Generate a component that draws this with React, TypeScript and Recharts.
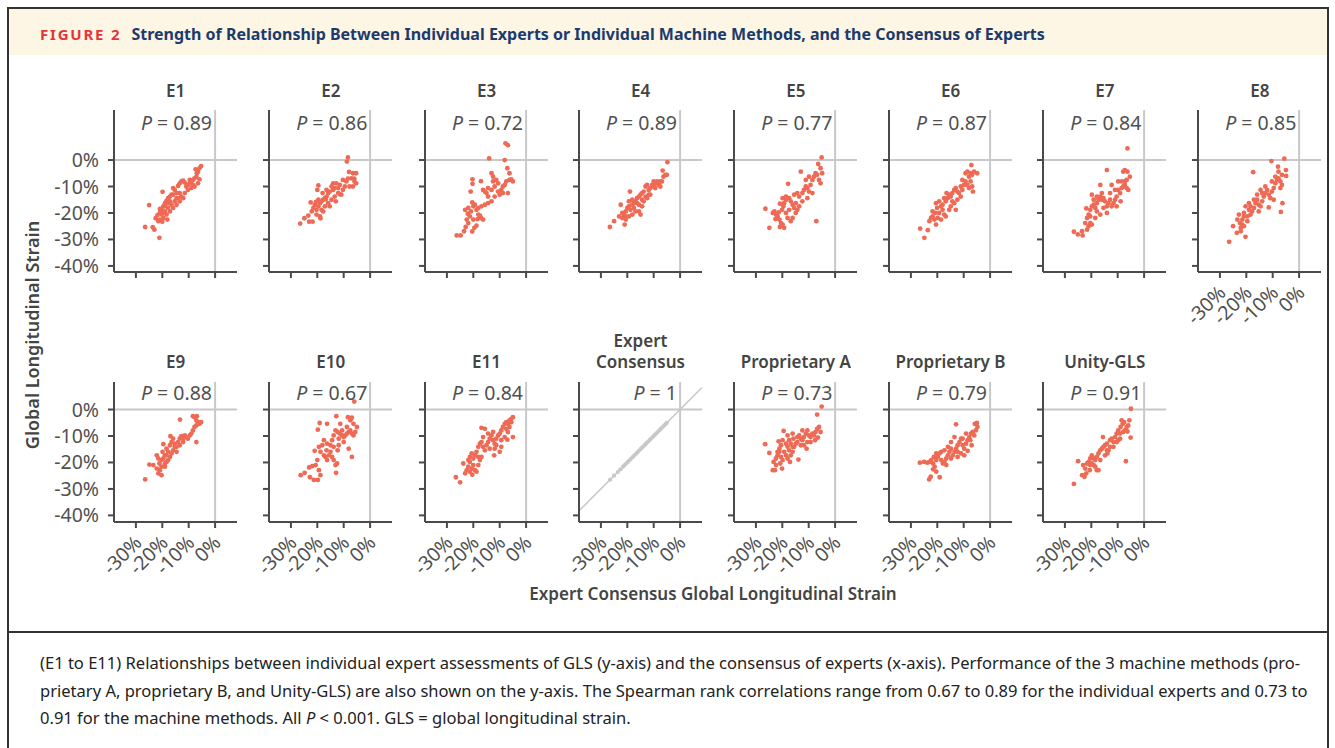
import React from 'react';
import { ScatterChart, Scatter, XAxis, YAxis, ReferenceLine } from 'recharts';

type Pt = [number, number];

// values, in % GLS: [consensus (x), method (y)]
const E1: Pt[] = [
  [-26.5, -25.3], [-23.6, -25.4], [-23.0, -26.3], [-21.1, -29.4], [-25.0, -17.0], [-19.9, -12.0], [-22.5, -22.0],
  [-21.8, -20.8], [-20.9, -19.8], [-20.3, -18.8], [-19.6, -17.5], [-19.0, -16.3], [-18.4, -15.4], [-17.8, -14.4],
  [-17.1, -13.8], [-16.5, -13.1], [-15.9, -10.6], [-15.3, -11.3], [-14.6, -12.5], [-14.0, -9.8], [-13.4, -8.8],
  [-12.8, -8.1], [-12.1, -7.8], [-11.5, -8.5], [-10.9, -10.0], [-10.3, -9.4], [-9.6, -8.8], [-9.0, -8.1],
  [-8.4, -7.5], [-7.8, -6.9], [-7.1, -6.3], [-6.9, -5.0], [-6.5, -4.4], [-5.9, -3.1], [-5.3, -2.3], [-7.4, -3.5],
  [-8.4, -9.4], [-7.8, -10.0], [-9.0, -10.6], [-10.3, -11.3], [-11.5, -12.5], [-12.8, -13.8], [-14.0, -14.4],
  [-15.3, -15.6], [-16.5, -16.9], [-17.8, -18.1], [-19.0, -19.4], [-20.3, -20.6], [-20.9, -22.5], [-19.6, -21.9],
  [-18.4, -20.6], [-17.1, -19.4], [-15.9, -18.1], [-14.6, -16.9], [-13.4, -15.6], [-12.1, -14.4], [-13.4, -12.5],
  [-14.6, -14.4], [-17.1, -15.6], [-19.0, -17.5], [-20.9, -18.5], [-21.5, -23.1], [-20.0, -23.3], [-18.1, -22.5],
  [-9.6, -7.5], [-6.5, -8.8], [-5.9, -7.3], [-15.9, -13.1], [-17.8, -16.3], [-19.6, -20.0],
];
const E2: Pt[] = [
  [-26.5, -24.0], [-24.9, -22.0], [-23.1, -23.3], [-21.8, -23.3], [-23.4, -21.0], [-22.1, -19.4], [-21.5, -18.1],
  [-20.9, -16.9], [-20.3, -18.8], [-19.6, -17.5], [-19.0, -16.3], [-20.3, -20.6], [-19.0, -21.3], [-19.6, -9.6],
  [-20.0, -11.3], [-8.4, 1.0], [-8.8, -0.6], [-8.0, -4.5], [-6.5, -5.0], [-5.3, -5.0], [-7.1, -6.9], [-5.9, -8.1],
  [-5.3, -8.8], [-6.5, -10.0], [-7.8, -10.0], [-10.3, -7.5], [-11.5, -9.4], [-12.8, -8.8], [-13.4, -10.6],
  [-14.0, -11.3], [-15.3, -11.9], [-15.9, -12.5], [-16.5, -13.8], [-17.1, -14.4], [-17.8, -15.0], [-18.4, -15.6],
  [-10.3, -11.3], [-9.6, -10.0], [-9.0, -8.1], [-12.1, -12.5], [-13.4, -13.8], [-14.6, -15.0], [-15.9, -16.3],
  [-17.1, -17.5], [-18.4, -18.8], [-16.5, -11.3], [-14.6, -10.0], [-12.1, -10.6], [-11.5, -12.9], [-13.0, -15.6],
  [-15.3, -17.5], [-17.8, -19.4], [-19.6, -15.0], [-18.0, -12.5], [-10.9, -13.1], [-8.4, -7.0], [-6.0, -7.0],
  [-14.0, -8.8], [-16.8, -14.9], [-20.5, -15.8], [-22.5, -16.0], [-18.8, -22.0],
];
const E3: Pt[] = [
  [-26.3, -28.5], [-24.8, -28.5], [-23.5, -26.9], [-22.9, -25.3], [-21.9, -23.8], [-20.4, -27.0], [-19.6, -25.6],
  [-18.8, -24.8], [-20.0, -22.5], [-18.4, -22.3], [-17.1, -21.9], [-16.3, -22.5], [-17.5, -21.0], [-21.3, -21.3],
  [-22.1, -20.3], [-20.9, -19.4], [-20.0, -17.5], [-20.4, -16.0], [-19.4, -16.9], [-18.8, -18.8], [-18.1, -18.1],
  [-16.9, -17.5], [-15.6, -16.9], [-14.4, -16.3], [-13.1, -15.6], [-14.4, -13.8], [-15.0, -12.5], [-15.6, -11.9],
  [-16.3, -11.3], [-14.4, -10.6], [-13.1, -11.3], [-11.9, -10.0], [-10.6, -8.8], [-11.3, -7.5], [-12.5, -6.3],
  [-13.1, -5.0], [-12.5, -8.1], [-10.0, -13.1], [-9.4, -11.3], [-8.8, -10.0], [-8.1, -9.4], [-7.5, -8.1],
  [-6.3, -7.5], [-5.6, -7.3], [-5.0, -8.1], [-6.3, -5.0], [-7.1, -3.1], [-6.9, -12.5], [-8.1, 0.0], [-7.8, 6.3],
  [-6.9, 5.6], [-14.0, 0.6], [-20.3, -7.3], [-20.3, -9.0], [-17.1, -8.0], [-21.0, -11.9], [-23.1, -18.8],
  [-21.9, -18.1], [-22.5, -22.5], [-18.1, -20.6], [-8.8, -12.5], [-10.6, -11.9], [-11.9, -13.8],
];
const E4: Pt[] = [
  [-26.6, -25.3], [-25.0, -23.1], [-23.1, -21.3], [-21.9, -21.9], [-20.6, -22.5], [-21.0, -24.4], [-22.5, -16.9],
  [-19.0, -11.9], [-20.6, -19.4], [-20.0, -18.1], [-19.4, -17.5], [-18.8, -18.8], [-18.1, -16.9], [-17.5, -16.3],
  [-16.9, -15.6], [-16.3, -14.4], [-15.6, -13.8], [-15.0, -13.1], [-14.4, -12.5], [-13.8, -11.9], [-13.1, -10.0],
  [-12.5, -9.4], [-11.9, -11.3], [-11.3, -10.6], [-10.6, -9.4], [-10.0, -8.1], [-9.4, -8.8], [-8.8, -8.1],
  [-8.1, -9.4], [-7.5, -10.0], [-6.9, -8.1], [-6.3, -6.3], [-5.6, -5.6], [-5.0, -5.6], [-6.6, -4.0], [-4.8, -0.8],
  [-16.9, -19.4], [-18.1, -20.6], [-19.4, -21.3], [-21.3, -20.6], [-17.5, -18.1], [-15.6, -16.9], [-14.4, -15.0],
  [-13.1, -13.8], [-11.9, -13.1], [-15.0, -20.6], [-16.3, -16.3], [-13.8, -15.6], [-12.5, -14.4], [-19.4, -15.6],
  [-10.0, -10.0], [-7.5, -8.1], [-9.4, -10.6], [-11.3, -13.1], [-14.4, -17.5], [-18.1, -15.0], [-20.6, -21.3],
  [-21.9, -20.0], [-15.6, -19.4],
];
const E5: Pt[] = [
  [-26.4, -18.4], [-24.9, -25.6], [-23.0, -19.4], [-22.4, -20.6], [-21.8, -21.3], [-21.1, -22.5], [-20.5, -23.8],
  [-19.3, -25.6], [-19.9, -24.4], [-20.9, -25.3], [-23.6, -20.0], [-22.6, -22.3], [-21.4, -19.8], [-20.1, -18.8],
  [-19.6, -17.5], [-19.3, -16.3], [-19.9, -14.4], [-18.6, -15.0], [-17.4, -14.4], [-16.8, -15.6], [-16.1, -16.9],
  [-15.5, -18.1], [-17.4, -18.8], [-18.6, -20.0], [-18.0, -21.9], [-16.8, -23.1], [-16.1, -21.9], [-14.9, -20.0],
  [-14.3, -18.8], [-13.6, -17.5], [-14.9, -16.3], [-15.5, -13.1], [-14.3, -12.5], [-13.6, -13.8], [-12.4, -12.5],
  [-11.8, -11.3], [-11.1, -10.0], [-10.5, -10.6], [-9.9, -11.9], [-9.3, -9.4], [-8.6, -7.5], [-8.0, -6.3],
  [-7.4, -5.0], [-6.8, -5.6], [-6.1, -7.5], [-5.5, -8.8], [-4.9, -5.0], [-5.5, -3.1], [-6.4, -1.5], [-5.1, 1.0],
  [-9.9, -6.3], [-11.1, -7.5], [-13.0, -4.4], [-17.8, -9.0], [-7.1, -23.1], [-12.4, -15.6], [-10.5, -14.4],
  [-8.6, -12.5], [-18.6, -13.8], [-20.9, -16.5],
];
const E6: Pt[] = [
  [-24.9, -29.4], [-26.5, -25.9], [-23.6, -26.5], [-23.0, -23.1], [-22.4, -21.9], [-21.8, -21.3], [-21.1, -22.5],
  [-20.5, -24.4], [-19.9, -21.9], [-20.8, -20.0], [-20.1, -18.1], [-20.5, -16.3], [-19.3, -15.6], [-18.6, -17.5],
  [-18.0, -18.8], [-17.4, -20.6], [-16.8, -21.3], [-19.3, -20.0], [-18.6, -22.5], [-18.0, -16.9], [-16.8, -15.6],
  [-16.1, -14.4], [-15.5, -13.1], [-16.5, -12.5], [-14.9, -13.8], [-14.3, -12.5], [-13.6, -11.3], [-13.0, -10.6],
  [-12.4, -11.9], [-11.8, -12.5], [-11.1, -13.8], [-12.4, -15.0], [-13.6, -16.3], [-14.9, -17.5], [-13.0, -18.8],
  [-11.1, -10.0], [-10.5, -11.3], [-9.9, -9.4], [-9.3, -8.1], [-8.6, -9.4], [-8.0, -10.6], [-7.4, -8.1],
  [-6.8, -10.0], [-6.5, -11.9], [-8.0, -6.3], [-9.3, -5.0], [-8.6, -4.4], [-7.4, -5.0], [-6.8, -5.6], [-6.1, -4.4],
  [-4.9, -5.0], [-7.1, -1.9], [-14.3, -15.6], [-15.5, -18.8], [-17.4, -14.4], [-10.5, -7.5], [-21.8, -19.4],
];
const E7: Pt[] = [
  [-26.6, -27.1], [-25.1, -28.1], [-23.3, -28.5], [-23.5, -26.9], [-21.6, -26.3], [-21.0, -25.0], [-20.4, -23.8],
  [-19.8, -24.4], [-22.3, -23.8], [-21.6, -21.9], [-21.0, -20.6], [-20.4, -18.8], [-21.9, -18.3], [-19.8, -17.5],
  [-19.1, -16.9], [-18.5, -18.1], [-17.9, -16.3], [-17.3, -15.0], [-16.6, -13.8], [-16.0, -12.5], [-15.4, -14.4],
  [-14.8, -15.6], [-14.1, -17.5], [-13.5, -16.3], [-12.9, -15.0], [-12.3, -17.5], [-11.6, -16.3], [-11.0, -15.0],
  [-10.4, -13.8], [-9.8, -11.3], [-9.1, -12.5], [-8.5, -10.6], [-7.9, -10.0], [-7.3, -9.4], [-6.6, -10.6],
  [-6.0, -11.3], [-7.3, -8.1], [-8.5, -8.1], [-9.8, -8.1], [-6.6, -7.5], [-6.3, -4.4], [-7.9, -4.4], [-7.3, -3.8],
  [-5.4, -6.3], [-16.6, -9.4], [-12.3, -9.4], [-14.1, -3.8], [-6.3, 4.4], [-19.8, -13.1], [-19.1, -15.0],
  [-17.9, -19.4], [-16.6, -20.6], [-18.5, -21.9], [-20.4, -21.3], [-15.4, -18.1], [-14.1, -20.0], [-10.4, -17.5],
  [-8.9, -15.6], [-12.9, -12.5], [-11.0, -11.3], [-16.0, -15.0], [-17.9, -13.8],
];
const E8: Pt[] = [
  [-26.5, -30.9], [-25.0, -25.0], [-23.6, -27.5], [-22.1, -26.9], [-20.9, -25.0], [-20.3, -29.0], [-22.4, -23.8],
  [-21.5, -22.5], [-22.8, -20.6], [-20.9, -20.0], [-19.6, -21.3], [-19.0, -18.8], [-20.3, -17.5], [-18.4, -17.5],
  [-17.8, -19.4], [-17.1, -18.1], [-16.5, -16.3], [-15.9, -15.0], [-15.3, -16.9], [-14.6, -17.5], [-14.0, -15.6],
  [-13.4, -13.8], [-12.8, -12.5], [-12.1, -11.3], [-11.5, -13.1], [-10.9, -14.4], [-10.3, -11.9], [-9.6, -10.6],
  [-9.0, -8.8], [-8.4, -7.5], [-7.8, -6.9], [-7.1, -8.1], [-6.5, -9.4], [-7.1, -10.6], [-9.6, -15.0], [-6.3, -16.3],
  [-6.9, -19.6], [-11.5, -17.9], [-14.6, -11.3], [-14.0, -12.5], [-17.4, -4.6], [-10.5, -0.4], [-8.0, -2.5],
  [-5.6, 0.5], [-5.0, -3.8], [-4.9, -6.0], [-6.5, -5.6], [-7.8, -4.4], [-9.0, -6.3], [-10.3, -8.1], [-12.8, -10.0],
  [-15.9, -13.1], [-17.1, -15.0], [-19.0, -16.3], [-21.5, -24.4], [-23.4, -22.5], [-19.6, -23.1], [-18.4, -20.6],
  [-15.3, -19.4], [-20.9, -21.3], [-22.1, -25.6],
];
const E9: Pt[] = [
  [-26.5, -26.4], [-24.9, -20.8], [-23.4, -21.0], [-22.1, -22.3], [-21.5, -24.1], [-20.3, -24.8], [-20.9, -22.9],
  [-21.1, -20.4], [-20.3, -19.1], [-19.6, -18.5], [-19.0, -17.3], [-19.9, -16.0], [-19.6, -13.1], [-18.4, -14.8],
  [-17.8, -16.0], [-17.1, -17.9], [-18.4, -19.8], [-19.0, -21.6], [-20.3, -21.6], [-17.1, -13.5], [-16.5, -12.3],
  [-15.9, -11.0], [-15.3, -12.9], [-14.6, -14.1], [-14.0, -12.3], [-13.4, -11.0], [-12.8, -10.1], [-12.1, -11.0],
  [-11.5, -9.8], [-10.9, -10.4], [-10.3, -11.0], [-9.6, -9.8], [-9.0, -9.1], [-8.4, -7.9], [-7.8, -6.6],
  [-7.1, -6.0], [-6.5, -4.8], [-5.9, -5.4], [-5.3, -4.8], [-7.1, -4.1], [-7.8, -2.9], [-8.4, -2.5], [-6.9, -2.5],
  [-7.1, -12.3], [-13.3, -3.8], [-16.9, -10.1], [-15.9, -15.4], [-14.6, -16.0], [-13.4, -13.5], [-12.1, -12.3],
  [-16.5, -16.6], [-17.8, -19.1], [-19.0, -20.4], [-15.3, -14.1], [-18.4, -17.3], [-21.5, -18.5], [-22.1, -17.3],
];
const E10: Pt[] = [
  [-26.3, -24.8], [-24.8, -23.9], [-22.8, -25.6], [-21.3, -26.6], [-19.8, -26.6], [-23.1, -21.9], [-21.9, -21.4],
  [-20.6, -21.0], [-19.4, -22.9], [-18.8, -24.8], [-20.0, -19.1], [-21.0, -15.6], [-19.4, -14.1], [-18.1, -13.5],
  [-18.8, -16.0], [-17.5, -17.3], [-16.9, -17.9], [-16.3, -19.1], [-15.6, -17.3], [-15.0, -16.0], [-14.4, -17.9],
  [-13.8, -19.1], [-13.1, -21.0], [-12.5, -20.4], [-12.9, -23.9], [-12.3, -15.4], [-11.9, -13.5], [-13.8, -14.1],
  [-15.0, -13.5], [-16.3, -12.9], [-17.5, -11.6], [-16.5, -15.4], [-14.4, -11.6], [-13.8, -9.8], [-13.1, -7.9],
  [-12.3, -8.5], [-11.5, -9.1], [-10.6, -9.8], [-10.0, -10.4], [-9.4, -9.8], [-8.8, -9.1], [-8.1, -8.5],
  [-7.5, -7.9], [-6.9, -9.1], [-6.3, -9.8], [-5.6, -8.5], [-5.0, -6.6], [-6.3, -5.4], [-7.5, -4.1], [-8.4, -2.9],
  [-6.9, -3.1], [-8.8, -6.6], [-10.6, -7.9], [-11.3, -5.4], [-12.8, -2.5], [-19.1, -5.1], [-19.8, -7.6],
  [-16.3, -5.4], [-6.0, 3.0], [-8.1, -14.8], [-6.9, -17.9], [-11.9, -11.0], [-10.0, -12.3],
];
const E11: Pt[] = [
  [-26.6, -25.6], [-25.0, -27.5], [-23.8, -20.4], [-23.1, -24.1], [-22.5, -22.9], [-21.9, -21.6], [-21.3, -23.5],
  [-20.6, -22.3], [-20.0, -21.0], [-19.4, -22.9], [-18.8, -23.5], [-21.9, -19.1], [-21.3, -17.9], [-20.6, -16.6],
  [-21.3, -19.8], [-20.0, -18.5], [-19.4, -17.3], [-18.8, -16.0], [-18.1, -17.9], [-17.5, -19.1], [-16.9, -17.9],
  [-18.1, -14.1], [-17.5, -12.9], [-16.9, -12.3], [-16.3, -14.1], [-15.6, -15.4], [-15.0, -13.5], [-14.4, -12.3],
  [-13.8, -11.0], [-13.1, -9.8], [-12.5, -11.6], [-11.9, -12.9], [-11.3, -11.0], [-10.6, -9.8], [-10.0, -9.1],
  [-9.4, -7.9], [-8.8, -6.6], [-8.1, -5.4], [-7.5, -4.8], [-6.9, -5.4], [-6.3, -4.1], [-5.6, -3.5], [-5.0, -2.9],
  [-7.5, -7.3], [-6.9, -8.5], [-6.3, -6.6], [-5.6, -4.8], [-8.1, -10.4], [-7.1, -11.4], [-9.4, -14.1],
  [-10.0, -16.0], [-12.1, -17.3], [-13.8, -14.8], [-15.6, -7.3], [-16.9, -6.9], [-14.4, -9.1], [-12.5, -8.5],
  [-11.9, -14.8], [-9.4, -11.6], [-11.3, -13.5], [-5.0, -10.4], [-16.3, -10.4], [-18.1, -21.0], [-20.4, -24.6],
];
// consensus against itself: x values of the grey points on the identity line
const CONSENSUS_X = [
  -26.5, -25.0, -23.6, -22.6, -21.6, -21.0, -20.4, -19.8, -19.2, -18.6, -18.0, -17.4, -16.8, -16.2, -15.6, -15.0,
  -14.4, -13.8, -13.2, -12.6, -12.0, -11.4, -10.8, -10.2, -9.6, -9.0, -8.4, -7.8, -7.2, -6.6, -6.0, -5.4, -5.0,
];
const PROP_A: Pt[] = [
  [-26.5, -13.1], [-24.9, -16.4], [-23.6, -22.9], [-22.8, -22.9], [-23.3, -19.8], [-22.4, -18.5], [-21.8, -17.3],
  [-21.1, -16.0], [-20.5, -17.9], [-19.9, -19.1], [-20.8, -20.4], [-22.4, -21.0], [-21.8, -16.0], [-21.1, -14.8],
  [-20.5, -13.5], [-21.4, -12.0], [-19.9, -11.6], [-18.6, -12.9], [-18.0, -14.1], [-17.4, -15.4], [-19.3, -16.0],
  [-18.6, -17.3], [-18.0, -18.5], [-16.8, -17.3], [-16.1, -16.0], [-15.5, -14.1], [-14.9, -12.9], [-14.3, -12.3],
  [-13.9, -18.9], [-16.1, -14.1], [-16.8, -12.9], [-17.4, -11.6], [-15.8, -11.0], [-16.1, -9.1], [-18.0, -9.8],
  [-19.5, -8.1], [-14.3, -10.4], [-13.6, -9.8], [-13.0, -11.0], [-12.4, -11.6], [-11.8, -10.4], [-11.1, -9.1],
  [-10.5, -7.9], [-9.9, -9.8], [-9.3, -10.4], [-8.6, -9.1], [-8.0, -9.8], [-7.4, -8.5], [-6.8, -7.3], [-6.1, -6.6],
  [-5.5, -8.5], [-6.5, -10.6], [-7.6, -11.6], [-9.3, -12.3], [-10.8, -14.8], [-13.0, -13.5], [-6.8, -1.9],
  [-5.1, 1.1], [-10.5, -12.3], [-12.4, -7.9], [-11.8, -13.5], [-17.1, -19.8], [-20.1, -22.3],
];
const PROP_B: Pt[] = [
  [-26.6, -20.1], [-25.0, -19.8], [-23.8, -20.1], [-22.9, -19.8], [-22.3, -19.1], [-21.6, -20.4], [-21.0, -21.6],
  [-21.6, -22.6], [-23.1, -26.4], [-22.5, -25.4], [-20.4, -23.5], [-19.1, -25.6], [-20.4, -19.1], [-19.8, -17.9],
  [-19.1, -16.6], [-18.5, -16.0], [-20.4, -16.6], [-21.3, -17.9], [-18.5, -19.1], [-17.9, -20.4], [-17.3, -19.8],
  [-16.6, -18.5], [-16.0, -17.3], [-15.4, -16.0], [-14.8, -14.8], [-16.0, -14.1], [-17.3, -15.4], [-16.6, -21.0],
  [-14.8, -18.5], [-14.1, -17.3], [-13.5, -16.0], [-12.9, -14.8], [-12.3, -13.5], [-11.6, -12.3], [-11.0, -11.0],
  [-12.3, -17.9], [-10.4, -13.5], [-9.8, -14.8], [-9.1, -12.9], [-8.5, -11.6], [-7.9, -10.4], [-7.3, -9.1],
  [-6.6, -8.5], [-6.0, -9.8], [-5.4, -7.9], [-4.8, -6.6], [-5.8, -5.4], [-5.0, -5.1], [-7.5, -11.6], [-8.5, -15.6],
  [-7.0, -13.5], [-9.1, -9.1], [-10.4, -11.0], [-12.9, -5.6], [-14.8, -12.3], [-13.5, -10.4], [-11.0, -16.6],
  [-12.3, -16.0], [-9.8, -17.3],
];
const UNITY: Pt[] = [
  [-26.6, -28.1], [-25.0, -19.5], [-23.5, -24.8], [-22.6, -25.4], [-21.9, -24.1], [-23.1, -21.0], [-22.3, -22.3],
  [-21.6, -20.4], [-21.0, -19.8], [-20.4, -18.5], [-19.8, -17.3], [-20.6, -22.9], [-19.1, -21.0], [-18.5, -21.6],
  [-17.9, -22.9], [-17.3, -22.9], [-19.8, -20.4], [-18.5, -19.1], [-17.9, -17.9], [-17.3, -16.6], [-16.6, -15.4],
  [-16.0, -14.8], [-15.6, -10.4], [-15.4, -14.1], [-14.8, -13.5], [-14.1, -12.9], [-13.5, -15.4], [-13.9, -16.6],
  [-12.9, -11.6], [-12.3, -11.0], [-11.6, -12.3], [-11.0, -10.4], [-10.4, -9.1], [-9.8, -11.6], [-9.1, -11.0],
  [-9.8, -7.9], [-8.9, -6.6], [-8.1, -5.4], [-7.6, -4.8], [-8.5, -4.1], [-7.3, -7.9], [-6.6, -6.6], [-6.0, -6.0],
  [-5.6, -4.1], [-6.3, -8.3], [-5.1, -10.6], [-6.9, -19.5], [-5.0, 0.3], [-14.8, -17.3], [-16.6, -19.1],
  [-19.1, -18.5], [-20.4, -21.0], [-11.6, -14.1], [-12.9, -14.1], [-9.1, -9.1], [-7.9, -8.5], [-10.4, -12.3],
  [-14.1, -15.4],
];

const ROW1_TITLES = ['E1', 'E2', 'E3', 'E4', 'E5', 'E6', 'E7', 'E8'];
const ROW1_RHO = ['0.89', '0.86', '0.72', '0.89', '0.77', '0.87', '0.84', '0.85'];
const ROW1_DATA = [E1, E2, E3, E4, E5, E6, E7, E8];
const ROW2_TITLES = ['E9', 'E10', 'E11', 'Expert\nConsensus', 'Proprietary A', 'Proprietary B', 'Unity-GLS'];
const ROW2_RHO = ['0.88', '0.67', '0.84', '1', '0.73', '0.79', '0.91'];
const CONSENSUS_PTS: Pt[] = CONSENSUS_X.map((v) => [v, v]);
const ROW2_DATA = [E9, E10, E11, CONSENSUS_PTS, PROP_A, PROP_B, UNITY];

const X_TICKS = [-30, -20, -10, 0];
const Y_TICKS = [-40, -30, -20, -10, 0];
const X_DOMAIN: [number, number] = [-38.3, 8.3];

const CAPTION = [
  '(E1 to E11) Relationships between individual expert assessments of GLS (y-axis) and the consensus of experts (x-axis). Performance of the 3 machine methods (pro-',
  'prietary A, proprietary B, and Unity-GLS) are also shown on the y-axis. The Spearman rank correlations range from 0.67 to 0.89 for the individual experts and 0.73 to',
];

const FONT = '"Noto Sans", "Open Sans", sans-serif';
const AXIS = '#4a4a4a';
const TXT = '#505050';
const GRID = '#c8c8c8';
const DOT = '#ee6a55';
const COL_X = [114, 269.3, 425, 579, 734.3, 889, 1043.3, 1198.3];
const PLOT_W = 123;
const Y_W = 75;

type PanelProps = {
  axisX: number;
  top: number;
  plotH: number;
  yDomain: [number, number];
  points: Pt[];
  yLabels: boolean;
  xLabels: boolean;
  consensus?: boolean;
};

const Panel = ({ axisX, top, plotH, yDomain, points, yLabels, xLabels, consensus }: PanelProps) => {
  const xH = 75;
  const data = points.map(([x, y]) => ({ x, y }));
  const yTick = (p: any) =>
    yLabels ? (
      <text x={p.x} y={p.y} dy="0.36em" textAnchor="end" fontSize={19.5} fill={TXT} fontFamily={FONT}>
        {`${p.payload.value}%`}
      </text>
    ) : (
      <g />
    );
  const xTick = (p: any) =>
    xLabels ? (
      <g transform={`translate(${p.x + 2},${p.y + 9})`}>
        <text transform="rotate(-45)" textAnchor="end" dy="0.36em" fontSize={19.5} fill={TXT} fontFamily={FONT}>
          {`${p.payload.value}%`}
        </text>
      </g>
    ) : (
      <g />
    );
  return (
    <div style={{ position: 'absolute', left: axisX - Y_W, top }}>
      <ScatterChart width={Y_W + PLOT_W + 4} height={plotH + xH} margin={{ top: 0, right: 4, bottom: 0, left: 0 }}>
        <XAxis
          type="number"
          dataKey="x"
          domain={X_DOMAIN}
          ticks={X_TICKS}
          allowDataOverflow
          interval={0}
          height={xH}
          axisLine={{ stroke: AXIS, strokeWidth: 2 }}
          tickLine={{ stroke: AXIS, strokeWidth: 2 }}
          tickSize={6}
          tick={xTick}
        />
        <YAxis
          type="number"
          dataKey="y"
          domain={yDomain}
          ticks={Y_TICKS}
          allowDataOverflow
          interval={0}
          width={Y_W}
          axisLine={{ stroke: AXIS, strokeWidth: 2 }}
          tickLine={{ stroke: AXIS, strokeWidth: 2 }}
          tickSize={6}
          tickMargin={9}
          tick={yTick}
        />
        <ReferenceLine y={0} stroke={GRID} strokeWidth={2} />
        <ReferenceLine x={0} stroke={GRID} strokeWidth={2} />
        {consensus && (
          <ReferenceLine
            segment={[
              { x: X_DOMAIN[0], y: X_DOMAIN[0] },
              { x: X_DOMAIN[1], y: X_DOMAIN[1] },
            ]}
            stroke={GRID}
            strokeWidth={1.5}
          />
        )}
        <Scatter
          data={data}
          isAnimationActive={false}
          shape={(p: any) => <circle cx={p.cx} cy={p.cy} r={consensus ? 2.1 : 2.4} fill={consensus ? GRID : DOT} />}
        />
      </ScatterChart>
    </div>
  );
};

const Title = ({ axisX, top, text }: { axisX: number; top: number; text: string }) => (
  <div
    style={{
      position: 'absolute',
      left: axisX - 20,
      width: PLOT_W + 40,
      top,
      textAlign: 'center',
      fontSize: 17,
      fontWeight: 600,
      lineHeight: '21px',
      color: '#444',
      whiteSpace: 'pre',
    }}
  >
    {text}
  </div>
);

const Rho = ({ axisX, top, value }: { axisX: number; top: number; value: string }) => (
  <div
    style={{
      position: 'absolute',
      left: axisX - 20,
      width: 118,
      top,
      textAlign: 'right',
      fontSize: 19.5,
      lineHeight: '24px',
      color: TXT,
      whiteSpace: 'nowrap',
    }}
  >
    <i>P</i> = {value}
  </div>
);

export default function App() {
  return (
    <div
      style={{
        position: 'absolute',
        left: 0,
        top: 0,
        width: 1335,
        height: 748,
        overflow: 'hidden',
        background: '#fff',
        fontFamily: FONT,
      }}
    >
      {/* frame */}
      <div style={{ position: 'absolute', left: 7, top: 7, width: 1318, height: 760, border: '2px solid #333' }} />
      <div style={{ position: 'absolute', left: 9, top: 9, width: 1318, height: 46, background: '#fdf6e4' }} />
      <div style={{ position: 'absolute', left: 7, top: 631, width: 1322, height: 2, background: '#333' }} />
      <div
        style={{
          position: 'absolute',
          left: 40,
          top: 21,
          lineHeight: '26px',
          whiteSpace: 'nowrap',
          fontWeight: 700,
        }}
      >
        <span style={{ color: '#e5333b', fontSize: 15, letterSpacing: 1.8 }}>FIGURE 2</span>
        <span style={{ color: '#1c3a6c', fontSize: 16, marginLeft: 10 }}>
          Strength of Relationship Between Individual Experts or Individual Machine Methods, and the Consensus of Experts
        </span>
      </div>

      {ROW1_DATA.map((pts, i) => (
        <React.Fragment key={ROW1_TITLES[i]}>
          <Panel
            axisX={COL_X[i]}
            top={110}
            plotH={162}
            yDomain={[-42.3, 18.9]}
            points={pts}
            yLabels={i === 0}
            xLabels={i === 7}
          />
          <Title axisX={COL_X[i]} top={80} text={ROW1_TITLES[i]} />
          <Rho axisX={COL_X[i]} top={111} value={ROW1_RHO[i]} />
        </React.Fragment>
      ))}
      {ROW2_DATA.map((pts, i) => (
        <React.Fragment key={ROW2_TITLES[i]}>
          <Panel
            axisX={COL_X[i]}
            top={381.7}
            plotH={140}
            yDomain={[-42.5, 10.4]}
            points={pts}
            yLabels={i === 0}
            xLabels
            consensus={i === 3}
          />
          <Title axisX={COL_X[i]} top={i === 3 ? 330 : 351} text={ROW2_TITLES[i]} />
          <Rho axisX={COL_X[i]} top={381} value={ROW2_RHO[i]} />
        </React.Fragment>
      ))}

      <div
        style={{
          position: 'absolute',
          left: 32 - 150,
          top: 335 - 11,
          width: 300,
          lineHeight: '22px',
          textAlign: 'center',
          transform: 'rotate(-90deg)',
          fontSize: 18,
          fontWeight: 600,
          color: '#444',
        }}
      >
        Global Longitudinal Strain
      </div>
      <div
        style={{
          position: 'absolute',
          left: 713 - 300,
          top: 583,
          width: 600,
          lineHeight: '22px',
          textAlign: 'center',
          fontSize: 17,
          fontWeight: 600,
          color: '#444',
        }}
      >
        Expert Consensus Global Longitudinal Strain
      </div>

      <div style={{ position: 'absolute', left: 40, top: 649, fontSize: 16.55, lineHeight: '27.5px', color: '#222' }}>
        {CAPTION.map((line) => (
          <div key={line} style={{ whiteSpace: 'nowrap' }}>
            {line}
          </div>
        ))}
        <div style={{ whiteSpace: 'nowrap' }}>
          0.91 for the machine methods. All <i>P</i> &lt; 0.001. GLS = global longitudinal strain.
        </div>
      </div>
    </div>
  );
}
